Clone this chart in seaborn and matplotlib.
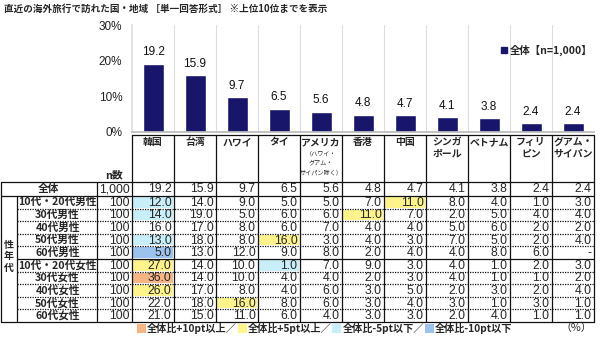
import matplotlib
matplotlib.use("Agg")
import matplotlib.pyplot as plt
import seaborn as sns
import pandas as pd
from matplotlib.patches import Rectangle, Patch

# ---------------- data ----------------
categories = ['韓国', '台湾', 'ハワイ', 'タイ', 'アメリカ', '香港', '中国',
              'シンガポール', 'ベトナム', 'フィリピン', 'グアム・サイパン']
header_labels = ['韓国', '台湾', 'ハワイ', 'タイ', 'アメリカ', '香港', '中国',
                 'シンガ\nポール', 'ベトナム', 'フィリ\nピン', 'グアム・\nサイパン']
overall = [19.2, 15.9, 9.7, 6.5, 5.6, 4.8, 4.7, 4.1, 3.8, 2.4, 2.4]
overall_n = '1,000'

groups = ['10代・20代男性', '30代男性', '40代男性', '50代男性', '60代男性',
          '10代・20代女性', '30代女性', '40代女性', '50代女性', '60代女性']
group_n = ['100'] * 10
m1020 = [12.0, 14.0, 9.0, 5.0, 5.0, 7.0, 11.0, 8.0, 4.0, 1.0, 3.0]
m30 = [14.0, 19.0, 5.0, 6.0, 6.0, 11.0, 7.0, 2.0, 5.0, 4.0, 4.0]
m40 = [16.0, 17.0, 8.0, 6.0, 7.0, 4.0, 4.0, 5.0, 6.0, 2.0, 2.0]
m50 = [13.0, 18.0, 8.0, 16.0, 3.0, 4.0, 3.0, 7.0, 5.0, 2.0, 4.0]
m60 = [5.0, 13.0, 12.0, 9.0, 8.0, 2.0, 4.0, 4.0, 8.0, 6.0, None]
f1020 = [27.0, 14.0, 10.0, 1.0, 7.0, 9.0, 3.0, 4.0, 1.0, 2.0, 3.0]
f30 = [36.0, 14.0, 10.0, 4.0, 4.0, 2.0, 3.0, 4.0, 1.0, 1.0, 2.0]
f40 = [26.0, 17.0, 8.0, 4.0, 6.0, 3.0, 5.0, 2.0, 3.0, 2.0, 4.0]
f50 = [22.0, 18.0, 16.0, 8.0, 6.0, 3.0, 4.0, 3.0, 1.0, 3.0, 1.0]
f60 = [21.0, 15.0, 11.0, 6.0, 4.0, 3.0, 3.0, 2.0, 4.0, 1.0, 1.0]
group_values = [m1020, m30, m40, m50, m60, f1020, f30, f40, f50, f60]

legend_label = '全体【n=1,000】'
yticks = [0, 10, 20, 30]
ytick_labels = ['0%', '10%', '20%', '30%']
key_labels = ['全体比+10pt以上／', '全体比+5pt以上／', '全体比-5pt以下／', '全体比-10pt以下']

# ---------------- style ----------------
sns.set_theme(style='white')
JP = ['Noto Sans CJK JP', 'DejaVu Sans']
NUM = ['Liberation Sans', 'DejaVu Sans']
plt.rcParams['font.family'] = JP

BAR = '#17166b'
C_P10 = '#f7b584'
C_P5 = '#fff48c'
C_M5 = '#c8eff9'
C_M10 = '#9cc3ee'
key_colors = [C_P10, C_P5, C_M5, C_M10]

W, H = 602, 338
fig = plt.figure(figsize=(W / 100, H / 100), dpi=100)

# table geometry (pixels)
X0 = 132.0
X1 = 594.0
CW = (X1 - X0) / len(categories)
HDR_TOP = 135.0
ALL_TOP = 182.0
ALL_BOT = 196.0
TBL_BOT = 322.0
RH = (TBL_BOT - ALL_BOT) / len(groups)
XL = 17.0   # 性年代 column right edge
XN = 97.0   # label column right edge

# ---------------- bar chart ----------------
ax = fig.add_axes([X0 / W, 1 - 132 / H, (X1 - X0) / W, (132 - 25) / H])
df = pd.DataFrame({'country': categories, 'pct': overall})
sns.barplot(data=df, x='country', y='pct', color=BAR, width=0.5, ax=ax,
            saturation=1, label=legend_label)
ax.set_xlim(-0.5, len(categories) - 0.5)
ax.set_ylim(0, 30)
ax.set_yticks(yticks)
ax.set_yticklabels(ytick_labels, fontsize=8.5, family=NUM, color='#222222')
ax.tick_params(axis='y', length=0, pad=7)
ax.set_xticks([])
ax.set_xlabel('')
ax.set_ylabel('')
for i in range(len(categories) - 1):
    ax.axvline(i + 0.5, color='#dddddd', lw=0.8, zorder=0)
for s in ['top', 'right']:
    ax.spines[s].set_visible(False)
ax.spines['left'].set_color('#dddddd')
ax.spines['bottom'].set_color('#bbbbbb')
for c in ax.containers:
    ax.bar_label(c, fmt='%.1f', padding=4, fontsize=8.5, family=NUM, color='#111111')
ax.legend(handles=[Patch(color=BAR)], labels=[legend_label],
          loc='center left', bbox_to_anchor=(492 / W, 1 - 50 / H),
          bbox_transform=fig.transFigure, frameon=False,
          handlelength=0.55, handleheight=0.55, handletextpad=0.3,
          prop={'family': JP, 'weight': 'bold', 'size': 7.5})

# ---------------- overlay for table ----------------
ov = fig.add_axes([0, 0, 1, 1], facecolor='none')
ov.set_xlim(0, W)
ov.set_ylim(H, 0)
ov.axis('off')

fig.text(4 / W, 1 - 9 / H,
         '直近の海外旅行で訪れた国・地域 ［単一回答形式］ ※上位10位までを表示',
         fontsize=6.9, fontweight='bold', va='center', ha='left', family=JP)

LC = '#111111'
# header
ov.plot([X0, X1], [HDR_TOP, HDR_TOP], color=LC, lw=0.9)
for i, lab in enumerate(header_labels):
    cx = X0 + (i + 0.5) * CW
    ov.text(cx, HDR_TOP + 2, lab, ha='center', va='top', fontsize=7.1,
            fontweight='bold', family=JP, linespacing=1.15)
ov.text(X0 + 4.5 * CW, 149, '（ハワイ・\nグアム・\nサイパン除く）', ha='center', va='top',
        fontsize=4.4, family=JP, linespacing=1.3)
ov.text((XN + X0) / 2, ALL_TOP - 2, 'n数', ha='center', va='bottom', fontsize=7.8,
        fontweight='bold', family=JP)

# vertical lines
for i in range(len(categories) + 1):
    x = X0 + i * CW
    ov.plot([x, x], [HDR_TOP, TBL_BOT], color=LC, lw=0.9)
ov.plot([XN, XN], [ALL_TOP, TBL_BOT], color=LC, lw=0.9)
ov.plot([XL, XL], [ALL_BOT, TBL_BOT], color=LC, lw=0.9)
ov.plot([1, 1], [ALL_TOP, TBL_BOT], color=LC, lw=0.9)

# horizontal lines
ov.plot([0.5, X1], [ALL_TOP, ALL_TOP], color=LC, lw=0.9)
ov.plot([0.5, X1], [ALL_BOT, ALL_BOT], color=LC, lw=0.9)
ov.plot([0.5, X1], [TBL_BOT, TBL_BOT], color=LC, lw=0.9)
for r in range(1, len(groups)):
    y = ALL_BOT + r * RH
    if r == 5:
        ov.plot([XL, X1], [y, y], color=LC, lw=0.9)
    else:
        ov.plot([XL, X1], [y, y], color=LC, lw=0.9, ls=(0, (1, 1)))

NFS = 8.8
LFS = 7.7
# overall row
yc = (ALL_TOP + ALL_BOT) / 2
ov.text(XN / 2, yc, '全体', ha='center', va='center', fontsize=LFS,
        fontweight='bold', family=JP)
ov.text(X0 - 2.5, yc + 0.5, overall_n, ha='right', va='center', fontsize=NFS, family=NUM)
for i, v in enumerate(overall):
    ov.text(X0 + (i + 1) * CW - 2.5, yc + 0.5, f'{v:.1f}', ha='right', va='center',
            fontsize=NFS, family=NUM)

# group rows
for r, (g, n, vals) in enumerate(zip(groups, group_n, group_values)):
    top = ALL_BOT + r * RH
    yc = top + RH / 2
    ov.text((XL + XN) / 2 + 0.5, yc, g, ha='center', va='center', fontsize=LFS,
            fontweight='bold', family=JP)
    ov.text(X0 - 2.5, yc + 0.5, n, ha='right', va='center', fontsize=NFS, family=NUM)
    for i, v in enumerate(vals):
        x_left = X0 + i * CW
        d = (0 if v is None else v) - overall[i]
        col = None
        if d >= 10:
            col = C_P10
        elif d >= 5:
            col = C_P5
        elif d <= -10:
            col = C_M10
        elif d <= -5:
            col = C_M5
        if col is not None:
            ov.add_patch(Rectangle((x_left + 1.2, top + 1.0), CW - 2.4, RH - 2.0,
                                   facecolor=col, edgecolor='none', zorder=0))
        txt = '-' if v is None else f'{v:.1f}'
        ov.text(x_left + CW - 2.5, yc + 0.5, txt, ha='right', va='center',
                fontsize=NFS, family=NUM)

# 性年代 vertical label
for k, ch in enumerate('性年代'):
    ov.text(XL / 2, 245 + k * 11.5, ch, ha='center', va='center', fontsize=7.2,
            fontweight='bold', family=JP)

# bottom key
x = 137
ky = 328
for lab, col in zip(key_labels, key_colors):
    ov.add_patch(Rectangle((x, ky - 4.5), 9, 9, facecolor=col, edgecolor='none'))
    t = ov.text(x + 10, ky, lab, ha='left', va='center', fontsize=7.3,
                fontweight='bold', family=JP)
    fig.canvas.draw()
    bb = t.get_window_extent()
    x = bb.x1 + 1
ov.text(592, ky, '（%）', ha='right', va='center', fontsize=7.8, family=JP)

fig.savefig('out.png', dpi=100)
